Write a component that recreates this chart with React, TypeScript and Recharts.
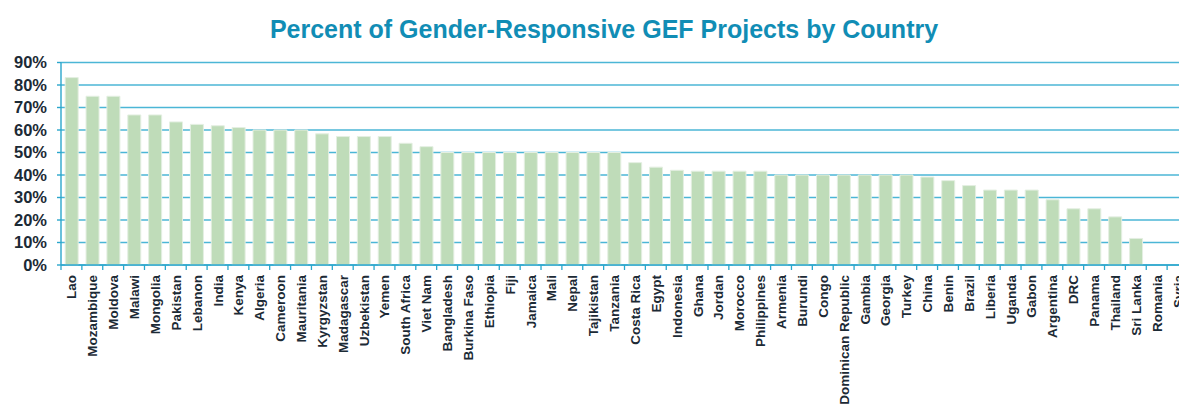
import React from "react";
import { BarChart, Bar, XAxis, YAxis, CartesianGrid } from "recharts";

const countries = [
  "Lao", "Mozambique", "Moldova", "Malawi", "Mongolia", "Pakistan", "Lebanon", "India", "Kenya", "Algeria",
  "Cameroon", "Mauritania", "Kyrgyzstan", "Madagascar", "Uzbekistan", "Yemen", "South Africa", "Viet Nam",
  "Bangladesh", "Burkina Faso", "Ethiopia", "Fiji", "Jamaica", "Mali", "Nepal", "Tajikistan", "Tanzania",
  "Costa Rica", "Egypt", "Indonesia", "Ghana", "Jordan", "Morocco", "Philippines", "Armenia", "Burundi",
  "Congo", "Dominican Republic", "Gambia", "Georgia", "Turkey", "China", "Benin", "Brazil", "Liberia",
  "Uganda", "Gabon", "Argentina", "DRC", "Panama", "Thailand", "Sri Lanka", "Romania", "Syria",
];

const percents = [
  83.3, 75, 75, 66.7, 66.7, 63.6, 62.5, 61.9, 61.1, 60,
  60, 60, 58.3, 57.1, 57.1, 57.1, 54.1, 52.6,
  50, 50, 50, 50, 50, 50, 50, 50, 50,
  45.5, 43.5, 42.1, 41.7, 41.7, 41.7, 41.7, 40, 40,
  40, 40, 40, 40, 40, 39.1, 37.5, 35.3, 33.3,
  33.3, 33.3, 29, 25, 25, 21.4, 11.8, 0, 0,
];

const yTicks = [0, 10, 20, 30, 40, 50, 60, 70, 80, 90];

const data = countries.map((c, i) => ({ country: c, value: percents[i] }));

const CHART_W = 1200;
const Y_W = 61;
const RIGHT = 12;
const BAND = (CHART_W - Y_W - RIGHT) / countries.length;
const AXIS_BLUE = "#2aa6cc";
const GRID_BLUE = "#4bb6d6";
const TEXT_DARK = "#1c2a35";
const FONT = "'Liberation Sans', Arial, sans-serif";

const XTick = (props: any) => {
  const { x, y, payload, index } = props;
  const isLast = index === countries.length - 1;
  return (
    <g transform={`translate(${x},${y})`}>
      <line x1={-BAND / 2} x2={-BAND / 2} y1={-6} y2={-1} stroke={AXIS_BLUE} strokeWidth={1.3} />
      {isLast && <line x1={BAND / 2} x2={BAND / 2} y1={-6} y2={-1} stroke={AXIS_BLUE} strokeWidth={1.3} />}
      <text
        transform="rotate(-90)"
        x={-4}
        y={0}
        dy={5}
        textAnchor="end"
        fill={TEXT_DARK}
        fontFamily={FONT}
        fontWeight="bold"
        fontSize={13.5}
      >
        {payload.value}
      </text>
    </g>
  );
};

export default function App() {
  return (
    <div
      style={{
        position: "absolute",
        left: 0,
        top: 0,
        width: 1179,
        height: 404,
        overflow: "hidden",
        background: "#ffffff",
      }}
    >
      <div
        style={{
          position: "absolute",
          left: 0,
          top: 15,
          width: 1208,
          textAlign: "center",
          fontFamily: FONT,
          fontWeight: "bold",
          fontSize: 25,
          color: "#118db5",
          lineHeight: "28px",
          zIndex: 2,
        }}
      >
        Percent of Gender-Responsive GEF Projects by Country
      </div>
      <BarChart
        width={CHART_W}
        height={404}
        data={data}
        margin={{ top: 62.5, right: RIGHT, bottom: 0, left: 0 }}
        barCategoryGap="20%"
      >
        <CartesianGrid vertical={false} stroke={GRID_BLUE} strokeWidth={1.4} />
        <YAxis
          width={Y_W}
          domain={[0, 90]}
          ticks={yTicks}
          interval={0}
          tickFormatter={(v: number) => `${v}%`}
          axisLine={{ stroke: AXIS_BLUE, strokeWidth: 1.4 }}
          tickLine={{ stroke: AXIS_BLUE, strokeWidth: 1.4 }}
          tickSize={4}
          tickMargin={10}
          tick={{ fill: TEXT_DARK, fontFamily: FONT, fontWeight: "bold", fontSize: 16.5 }}
        />
        <XAxis
          dataKey="country"
          height={139}
          interval={0}
          axisLine={{ stroke: AXIS_BLUE, strokeWidth: 1.4 }}
          tickLine={false}
          tickSize={4}
          tickMargin={2}
          tick={<XTick />}
        />
        <Bar
          dataKey="value"
          fill="#bfdcb9"
          stroke="#e4efe2"
          strokeWidth={1}
          isAnimationActive={false}
        />
      </BarChart>
    </div>
  );
}
